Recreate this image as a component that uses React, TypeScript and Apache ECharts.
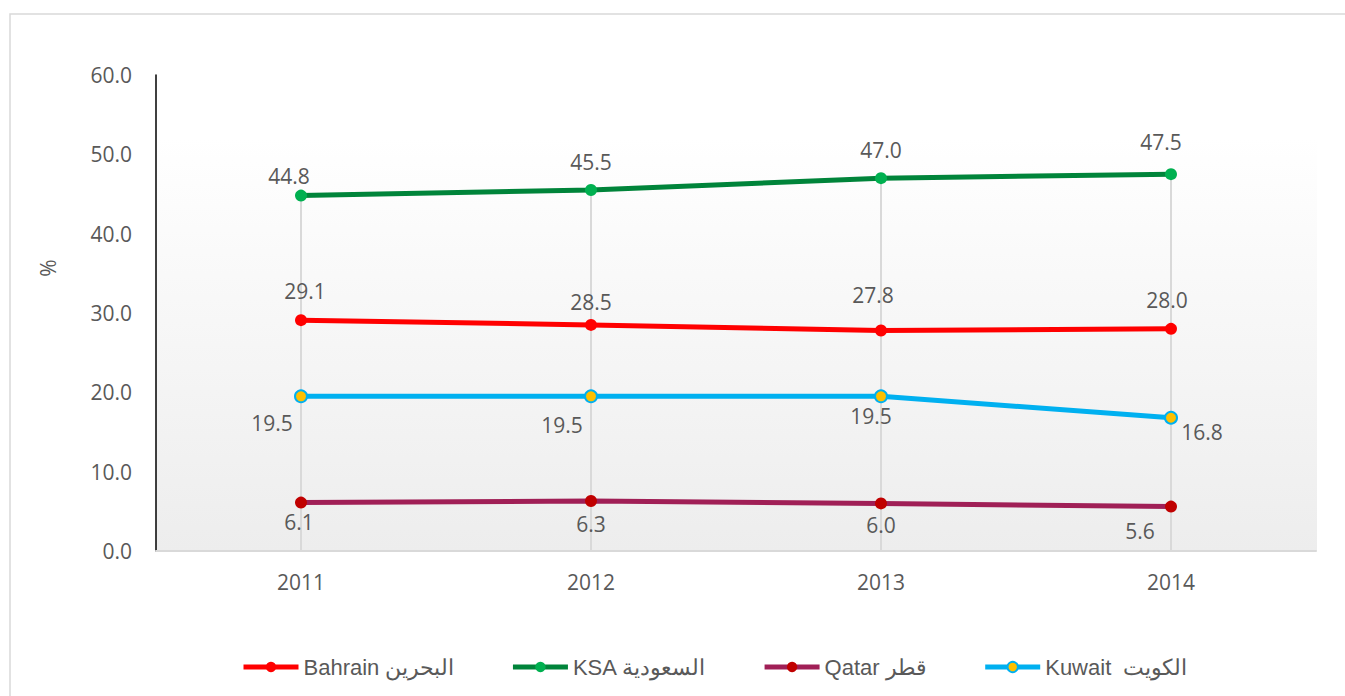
import React, { useEffect, useRef } from "react";
import * as echarts from "echarts";

const years = ["2011", "2012", "2013", "2014"];
const bahrain = [29.1, 28.5, 27.8, 28.0];
const ksa = [44.8, 45.5, 47.0, 47.5];
const qatar = [6.1, 6.3, 6.0, 5.6];
const kuwait = [19.5, 19.5, 19.5, 16.8];
const seriesNames = ["Bahrain البحرين", "KSA السعودية", "Qatar قطر", "Kuwait  الكويت"];
const yTicks = { min: 0, max: 60, interval: 10 };

const TXT = "#595959";
const FONT = "'Open Sans', 'Noto Sans', sans-serif";

// label offsets (styling only)
const offKsa = [[-12, -20], [0, -28], [0, -28], [-10, -32]];
const offBah = [[4, -29], [0, -23], [-8, -35], [-4, -29]];
const offKuw = [[-29, 27], [-29, 29], [-10, 20], [31, 14]];
const offQat = [[-2, 19], [0, 23], [0, 22], [-31, 24]];

function mkData(vals: number[], offs: number[][]) {
  return vals.map((v, i) => ({
    value: v,
    label: { offset: offs[i] },
  }));
}

function lineSeries(
  name: string,
  vals: number[],
  offs: number[][],
  lineColor: string,
  markerColor: string,
  borderColor: string
) {
  return {
    name,
    type: "line",
    z: 3,
    data: mkData(vals, offs),
    symbol: "circle",
    symbolSize: 12,
    lineStyle: { color: lineColor, width: 5 },
    itemStyle: { color: markerColor, borderColor, borderWidth: borderColor === markerColor ? 0 : 2 },
    label: {
      show: true,
      position: "inside",
      formatter: (p: any) => Number(p.value).toFixed(1),
      color: TXT,
      fontSize: 21,
      fontFamily: FONT,
    },
    emphasis: { disabled: true },
  };
}

export default function App() {
  const ref = useRef<HTMLDivElement>(null);
  useEffect(() => {
    document.body.style.margin = "0";
    const chart = echarts.init(ref.current!, null, { renderer: "svg" });
    chart.setOption({
      animation: false,
      backgroundColor: "#ffffff",
      grid: { left: 156, right: 29, top: 75, bottom: 145 },
      graphic: [
        {
          type: "rect",
          z: -10,
          shape: { x: 10, y: 14, width: 1400, height: 800 },
          style: { fill: "none", stroke: "#d9d9d9", lineWidth: 1.5 },
          silent: true,
        },
        {
          type: "rect",
          z: -10,
          shape: { x: 156, y: 137, width: 1161, height: 414 },
          style: {
            fill: new echarts.graphic.LinearGradient(0, 0, 0, 1, [
              { offset: 0, color: "#ffffff" },
              { offset: 1, color: "#ededed" },
            ]),
          },
          silent: true,
        },
        {
          type: "text",
          x: 48,
          y: 268,
          rotation: Math.PI / 2,
          style: {
            text: "%",
            fill: TXT,
            fontSize: 21,
            fontFamily: FONT,
            align: "center",
            verticalAlign: "middle",
          },
        },
      ],
      legend: {
        data: seriesNames,
        left: 236,
        top: 651,
        itemWidth: 55,
        itemHeight: 13,
        itemGap: 56,
        lineStyle: { width: 5 },
        textStyle: { color: TXT, fontSize: 22, fontFamily: "'Liberation Sans', Arial, sans-serif" },
        selectedMode: false,
      },
      xAxis: {
        type: "category",
        data: years,
        boundaryGap: true,
        axisLine: { show: true, lineStyle: { color: "#d9d9d9", width: 2 } },
        axisTick: { show: false },
        axisLabel: { color: TXT, fontSize: 21, fontFamily: FONT, margin: 20 },
        splitLine: { show: false },
      },
      yAxis: {
        type: "value",
        min: yTicks.min,
        max: yTicks.max,
        interval: yTicks.interval,
        axisLine: { show: true, lineStyle: { color: "#000000", width: 1.5 } },
        axisTick: { show: false },
        splitLine: { show: false },
        axisLabel: {
          color: TXT,
          fontSize: 21,
          fontFamily: FONT,
          margin: 24,
          formatter: (v: number) => v.toFixed(1),
        },
      },
      series: [
        {
          name: "drop",
          type: "line",
          z: 1,
          data: [],
          silent: true,
          markLine: {
            z: 1,
            silent: true,
            symbol: ["none", "none"],
            label: { show: false },
            lineStyle: { color: "#d9d9d9", width: 2, type: "solid" },
            data: years.map((_, i) => [
              { coord: [i, Math.max(ksa[i], bahrain[i], qatar[i], kuwait[i])] },
              { coord: [i, 0] },
            ]),
          },
        },
        lineSeries(seriesNames[1], ksa, offKsa, "#00843a", "#00b050", "#00b050"),
        lineSeries(seriesNames[0], bahrain, offBah, "#ff0000", "#ff0000", "#ff0000"),
        lineSeries(seriesNames[2], qatar, offQat, "#a01f56", "#c00000", "#c00000"),
        lineSeries(seriesNames[3], kuwait, offKuw, "#00b0f0", "#ffc000", "#00b0f0"),
      ],
    });
    return () => chart.dispose();
  }, []);
  return <div ref={ref} style={{ width: 1345, height: 696 }} />;
}
